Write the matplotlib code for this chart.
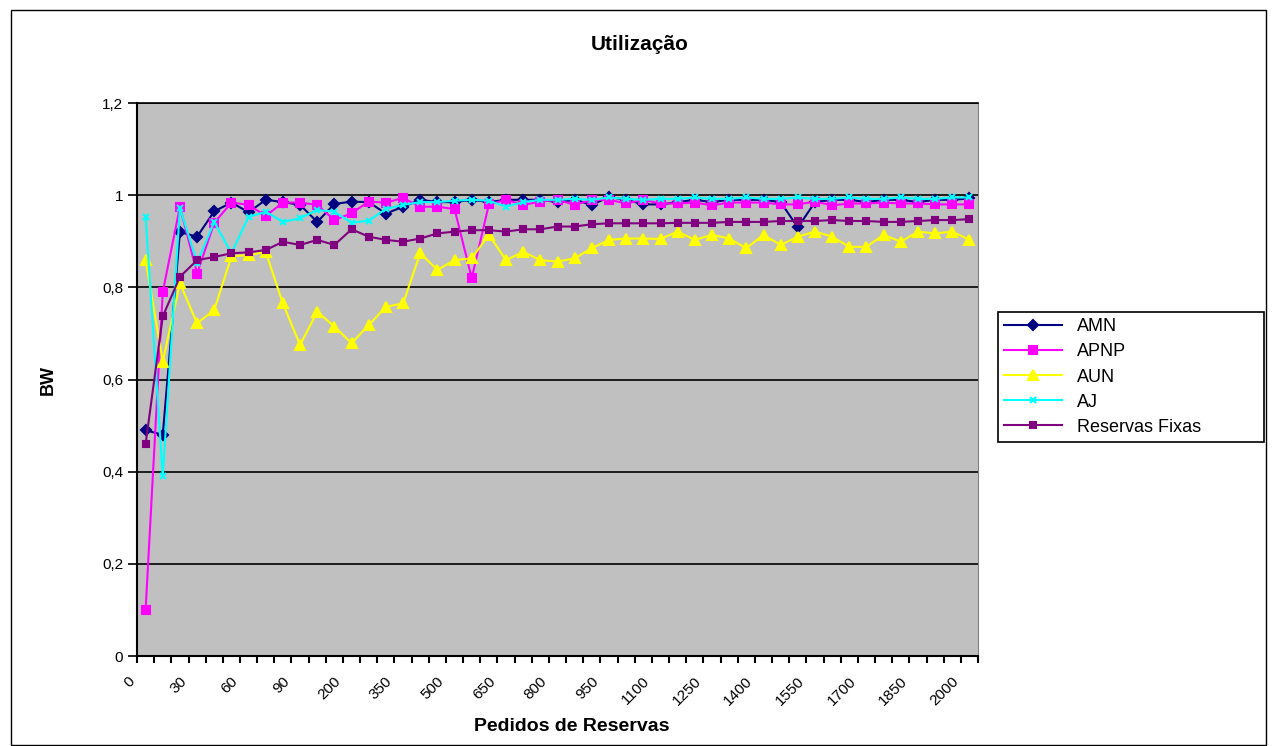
import matplotlib
matplotlib.use("Agg")
import matplotlib.pyplot as plt
from matplotlib.patches import Rectangle
from matplotlib.transforms import ScaledTranslation

plt.rcParams['font.family'] = ['Liberation Sans', 'DejaVu Sans']

# numero de pedidos (eixo de categorias)
pedidos = [0, 10, 20, 30, 40, 50, 60, 70, 80, 90, 100, 150,
           200, 250, 300, 350, 400, 450, 500, 550, 600, 650, 700, 750,
           800, 850, 900, 950, 1000, 1050, 1100, 1150, 1200, 1250, 1300, 1350,
           1400, 1450, 1500, 1550, 1600, 1650, 1700, 1750, 1800, 1850, 1900, 1950,
           2000]

amn = [0.49, 0.48, 0.92, 0.91, 0.965, 0.984, 0.963, 0.99, 0.985, 0.979,
       0.942, 0.981, 0.986, 0.985, 0.96, 0.975, 0.99, 0.985, 0.985, 0.99,
       0.985, 0.99, 0.99, 0.99, 0.985, 0.99, 0.979, 0.996, 0.99, 0.98,
       0.98, 0.985, 0.99, 0.985, 0.99, 0.99, 0.99, 0.985, 0.93, 0.985,
       0.99, 0.99, 0.985, 0.99, 0.99, 0.985, 0.99, 0.99, 0.993]

apnp = [0.10, 0.79, 0.975, 0.83, 0.94, 0.984, 0.979, 0.955, 0.984, 0.984,
        0.979, 0.946, 0.961, 0.986, 0.984, 0.994, 0.975, 0.975, 0.97, 0.82,
        0.98, 0.99, 0.979, 0.986, 0.99, 0.979, 0.99, 0.99, 0.982, 0.99,
        0.982, 0.982, 0.984, 0.978, 0.984, 0.984, 0.984, 0.98, 0.98, 0.986,
        0.978, 0.982, 0.982, 0.984, 0.982, 0.982, 0.98, 0.98, 0.98]

aun = [0.859, 0.639, 0.809, 0.722, 0.751, 0.867, 0.87, 0.877, 0.765, 0.675,
       0.747, 0.715, 0.679, 0.718, 0.758, 0.765, 0.874, 0.838, 0.859, 0.863,
       0.914, 0.859, 0.877, 0.859, 0.856, 0.863, 0.885, 0.903, 0.906, 0.906,
       0.905, 0.921, 0.903, 0.914, 0.906, 0.885, 0.914, 0.892, 0.91, 0.921,
       0.91, 0.888, 0.888, 0.914, 0.899, 0.921, 0.917, 0.921, 0.903]

aj = [0.953, 0.39, 0.972, 0.853, 0.942, 0.874, 0.953, 0.964, 0.942, 0.95,
      0.968, 0.964, 0.94, 0.945, 0.97, 0.979, 0.985, 0.985, 0.988, 0.99,
      0.988, 0.975, 0.985, 0.99, 0.99, 0.992, 0.99, 0.995, 0.992, 0.99,
      0.992, 0.992, 0.995, 0.992, 0.992, 0.995, 0.992, 0.992, 0.995, 0.992,
      0.992, 0.995, 0.992, 0.992, 0.995, 0.992, 0.992, 0.995, 0.995]

fixas = [0.46, 0.737, 0.823, 0.859, 0.866, 0.874, 0.876, 0.881, 0.899, 0.892,
         0.903, 0.892, 0.926, 0.91, 0.903, 0.899, 0.906, 0.917, 0.921, 0.924,
         0.924, 0.921, 0.926, 0.926, 0.932, 0.932, 0.937, 0.939, 0.939, 0.939,
         0.939, 0.94, 0.94, 0.94, 0.942, 0.942, 0.942, 0.944, 0.944, 0.944,
         0.946, 0.944, 0.944, 0.942, 0.942, 0.944, 0.946, 0.946, 0.948]

yticks = [0, 0.2, 0.4, 0.6, 0.8, 1.0, 1.2]
ylabels = ['0', '0,2', '0,4', '0,6', '0,8', '1', '1,2']

fig = plt.figure(figsize=(12.77, 7.46), dpi=100)
ax = fig.add_axes([0.1073, 0.1206, 0.6586, 0.7413])
ax.set_facecolor('#c0c0c0')

x = list(range(len(pedidos)))
series = [
    ('AMN', amn, '#000080', 'D', 5),
    ('APNP', apnp, '#ff00ff', 's', 6),
    ('AUN', aun, '#ffff00', '^', 7),
    ('AJ', aj, '#00ffff', 'x', 5),
    ('Reservas Fixas', fixas, '#800080', 's', 4),
]
for nome, vals, cor, mk, ms in series:
    ax.plot(x, vals, color=cor, lw=1.5, marker=mk, markersize=ms,
            markerfacecolor=cor, markeredgecolor=cor, mew=1.5, label=nome)

ax.set_ylim(0, 1.2)
ax.set_yticks(yticks)
ax.set_yticklabels(ylabels)
ax.yaxis.grid(True, color='black', lw=1.2)
ax.set_axisbelow(True)
ax.tick_params(axis='y', length=6.5, width=1.2, pad=3.5, labelsize=11)

ax.set_xlim(-0.5, len(pedidos) - 0.5)
ax.set_xticks(x[::3])
ax.set_xticklabels([str(p) for p in pedidos[::3]], rotation=45, ha='right')
ax.set_xticks([i - 0.5 for i in range(len(pedidos) + 1)], minor=True)
ax.tick_params(axis='x', which='major', length=0, pad=13, labelsize=11)
ax.tick_params(axis='x', which='minor', length=5, width=1.5)
off = ScaledTranslation(-8 / 100, 0, fig.dpi_scale_trans)
for lbl in ax.get_xticklabels():
    lbl.set_transform(lbl.get_transform() + off)

for lado in ['left', 'bottom']:
    ax.spines[lado].set_color('black')
    ax.spines[lado].set_linewidth(1.5)
ax.spines['top'].set_color('black')
ax.spines['top'].set_linewidth(1.2)
ax.spines['right'].set_color('#808080')

fig.text(0.501, 0.94, 'Utilização', ha='center', va='center',
         fontsize=15, fontweight='bold')
fig.text(0.448, 0.0255, 'Pedidos de Reservas', ha='center', va='center',
         fontsize=14, fontweight='bold')
fig.text(0.0376, 0.49, 'BW', ha='center', va='center', rotation=90,
         fontsize=13, fontweight='bold')

leg = fig.legend(loc='upper left', bbox_to_anchor=(0.7815, 0.4048, 0.2083, 0.177),
                 mode='expand', frameon=True, fancybox=False, edgecolor='black',
                 fontsize=13, handlelength=3.2, borderaxespad=0, labelspacing=0.45,
                 borderpad=0.35, framealpha=1)
leg.get_frame().set_linewidth(1.2)

fig.patches.append(Rectangle((11 / 1277, 1 / 746), 1255 / 1277, 735 / 746,
                             transform=fig.transFigure, fill=False,
                             edgecolor='black', lw=1))

fig.savefig('out.png', dpi=100)
